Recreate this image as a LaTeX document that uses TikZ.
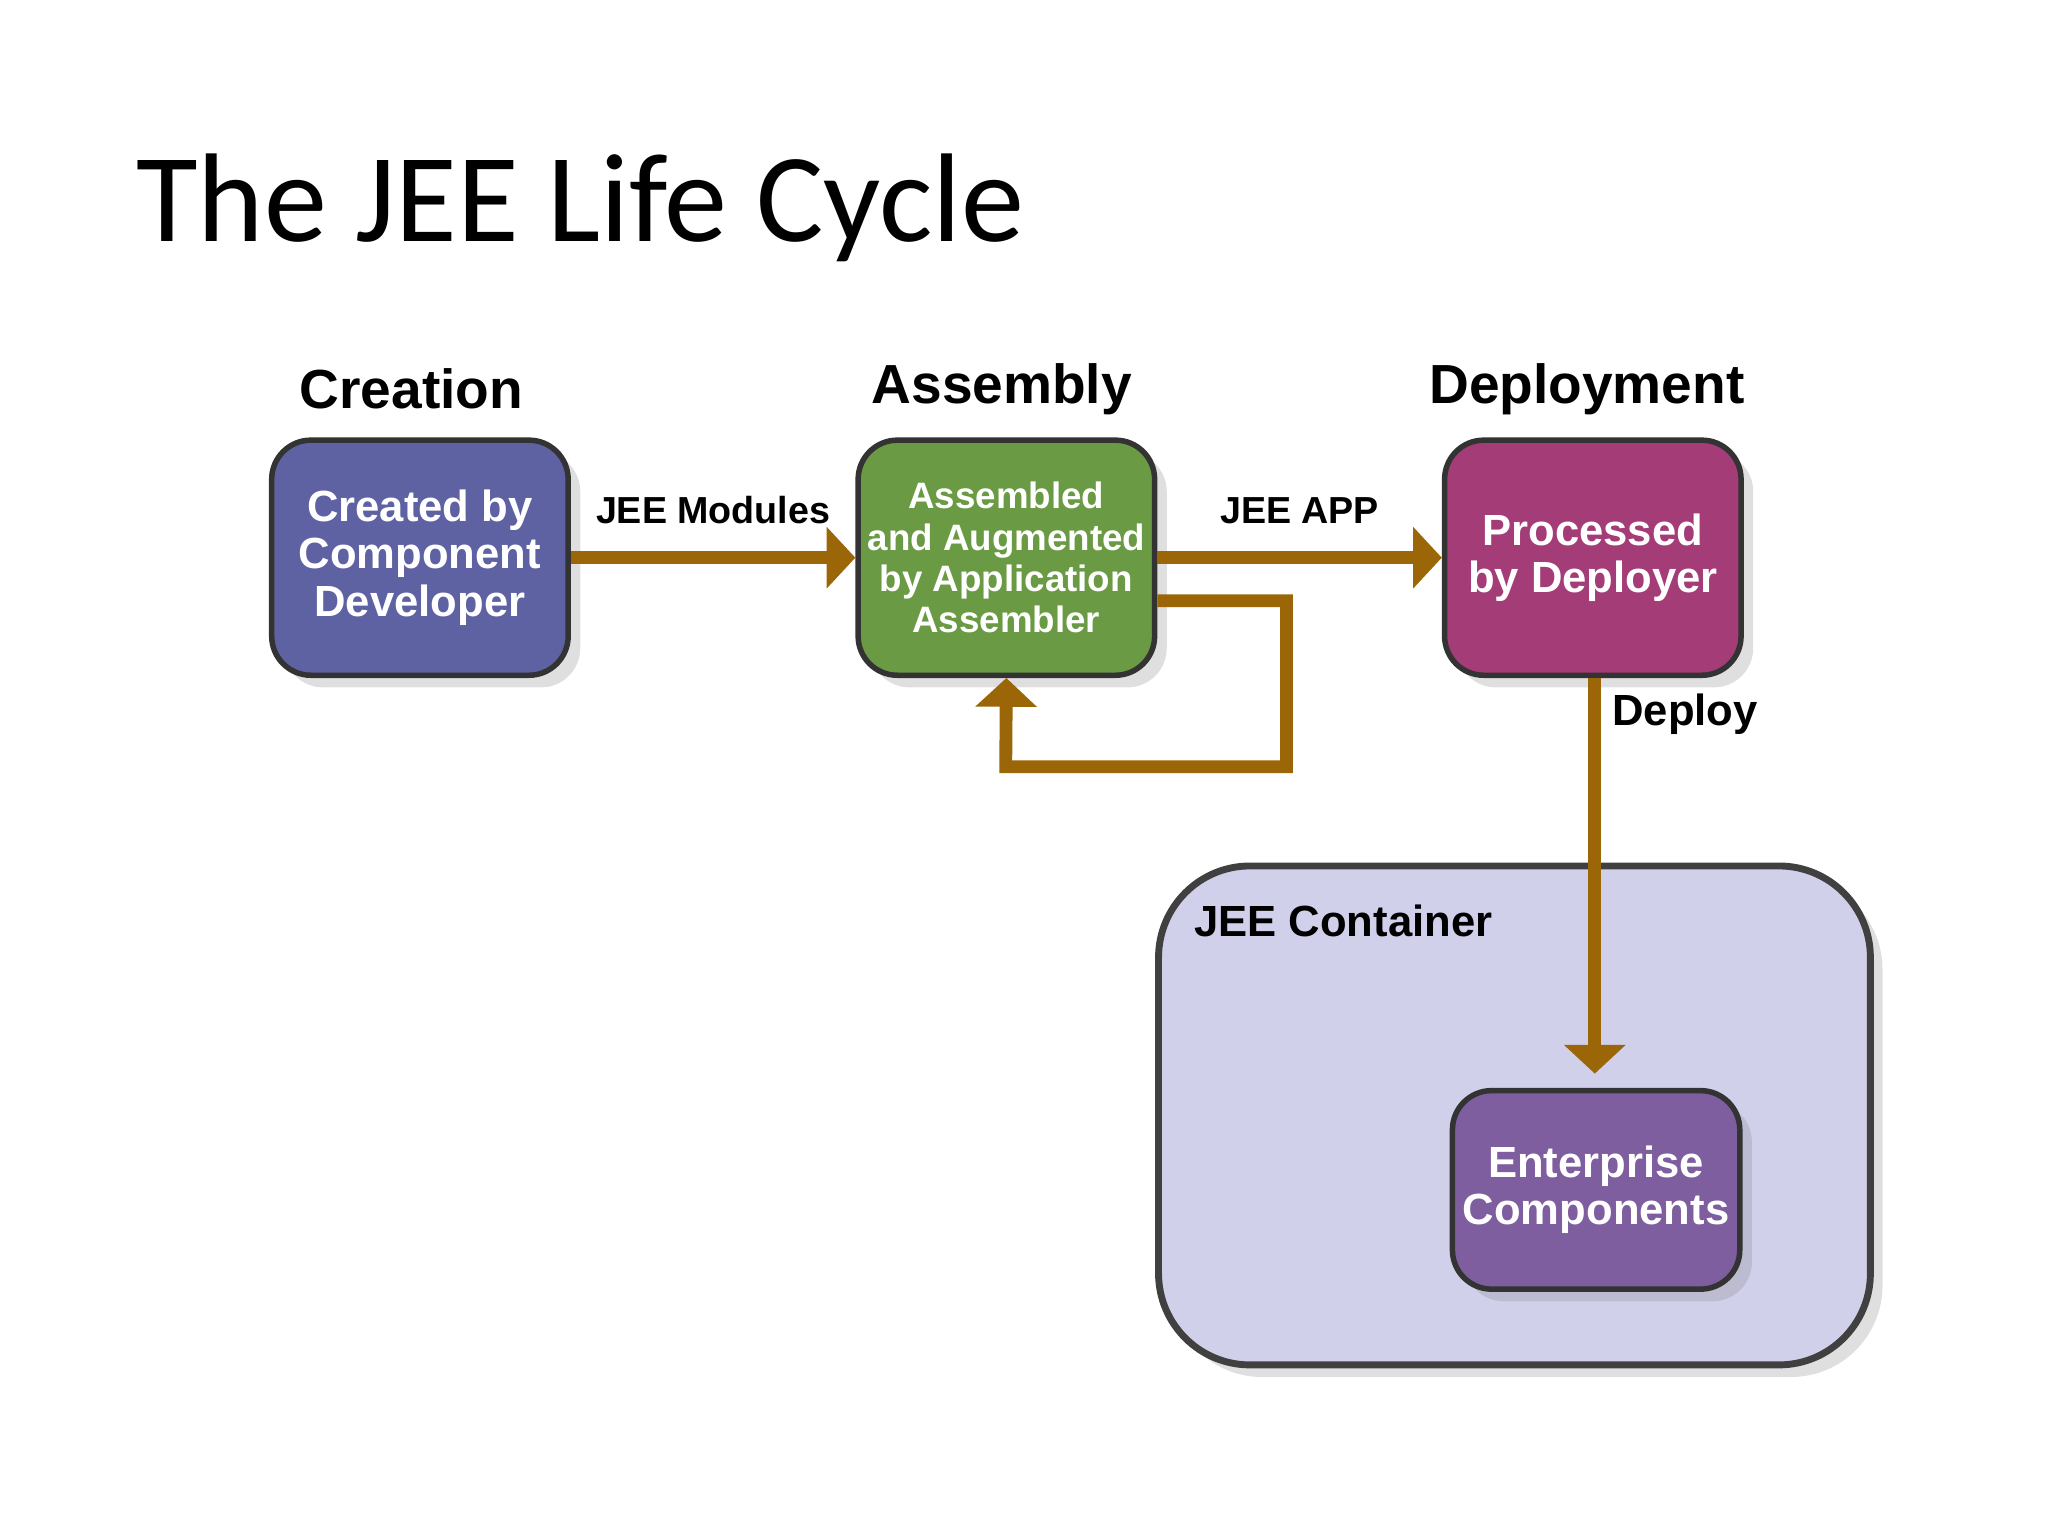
\documentclass[tikz,border=0pt]{standalone}
\usepackage{fontspec}
\setmainfont{Liberation Sans}
\newfontfamily\titlefont{Carlito}
\usetikzlibrary{arrows.meta,positioning,shadows}
\definecolor{flowbrown}{HTML}{9A6608}
\definecolor{devblue}{HTML}{5F62A2}
\definecolor{asmgreen}{HTML}{6B9A45}
\definecolor{depmag}{HTML}{A43C78}
\definecolor{entpurple}{HTML}{7E5E9E}
\definecolor{contfill}{HTML}{D1D0EA}
\begin{document}
\begin{tikzpicture}[
    every node/.style={font=\bfseries},
    box/.style={rectangle, draw=black!80, line width=1.2pt, rounded corners=3mm, minimum width=22.7mm, minimum height=18mm, inner sep=0.5mm, align=center, text=white, drop shadow={opacity=0.25}},
    head/.style={font=\bfseries\fontsize{12}{14}\selectfont},
    lbl/.style={font=\bfseries\fontsize{8.2}{9}\selectfont},
    flow/.style={draw=flowbrown, line width=2.8pt, -{Triangle[length=2.2mm,width=4.6mm]}}
]
\useasboundingbox (0,0) rectangle (15.68,-11.76);

% title
\node[anchor=base west, font=\titlefont\fontsize{27.5}{30}\selectfont] (title) at (0.92,-1.85) {The JEE Life Cycle};

% container
\node[rectangle, draw=black!75, line width=1.5pt, rounded corners=7mm, fill=contfill, minimum width=54.5mm, minimum height=38.2mm, drop shadow={opacity=0.25}] (cont) at (11.595,-8.54) {};
\node[anchor=west, font=\bfseries\fontsize{9.5}{11}\selectfont] (contlbl) at (9.02,-7.05) {JEE Container};

% phase boxes
\node[box, fill=devblue, font=\bfseries\fontsize{9.5}{10.3}\selectfont] (create) at (3.215,-4.27) {Created by\\Component\\Developer};
\node[box, fill=asmgreen, font=\bfseries\fontsize{8}{9}\selectfont] (assemble) at (7.705,-4.27) {Assembled\\and Augmented\\by Application\\Assembler};
\node[box, fill=depmag, font=\bfseries\fontsize{9.5}{10.3}\selectfont] (deploy) at (12.195,-4.27) {Processed\\by Deployer};
\node[box, fill=entpurple, minimum width=22mm, minimum height=15.2mm, font=\bfseries\fontsize{9.5}{10.3}\selectfont] (ent) at (12.22,-9.11) {Enterprise\\Components};

% headers
\node[head] (hcreate) at (3.15,-2.98) {Creation};
\node[head] (hassemble) at (7.67,-2.98) {Assembly};
\node[head] (hdeploy) at (12.15,-2.98) {Deployment};

% connectors
\draw[flow] (create.east) -- (assemble.west) node[lbl, midway, above=0.9mm] (modlbl) {JEE Modules};
\draw[flow] (assemble.east) -- (deploy.west) node[lbl, midway, above=0.9mm] (applbl) {JEE APP};
\coordinate (loopa) at (9.85,-4.6);
\coordinate (loopb) at (9.85,-5.87);
\coordinate (loopc) at (7.70,-5.87);
\draw[flow] (assemble.east |- loopa) -- (loopa) -- (loopb) -- (loopc) -- (assemble.south);
\coordinate (dtip) at (12.21,-8.22);
\draw[flow] (deploy.south -| dtip) -- (dtip);
\node[anchor=west, font=\bfseries\fontsize{9.5}{11}\selectfont] (deplbl) at (12.22,-5.47) {Deploy};
\end{tikzpicture}
\end{document}
